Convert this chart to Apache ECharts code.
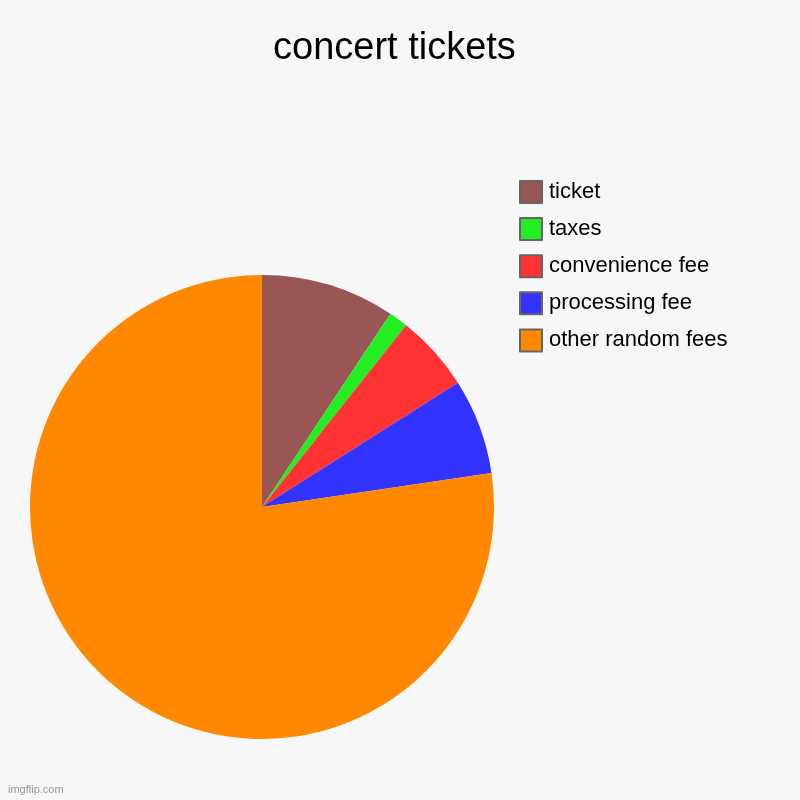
<!DOCTYPE html>
<html><head><meta charset="utf-8">
<script src="https://cdn.jsdelivr.net/npm/echarts@6/dist/echarts.min.js"></script>
<style>html,body{margin:0;padding:0;background:#f7f7f7}#c{width:800px;height:800px}</style>
</head><body><div id="c"></div>
<script>
const categories = ["ticket", "taxes", "convenience fee", "processing fee", "other random fees"];
const values = [70, 10, 40, 50, 580];
const colors = ["#9a5555", "#22ee22", "#ff3333", "#3333ff", "#ff8800"];

const chart = echarts.init(document.getElementById('c'));
chart.setOption({
  backgroundColor: '#f7f7f7',
  animation: false,
  title: {
    text: 'concert tickets', left: 268, top: 25,
    textStyle: { fontFamily: 'Liberation Sans, Arial, sans-serif', fontSize: 38, fontWeight: 'normal', color: '#000' }
  },
  legend: {
    orient: 'vertical', left: 514, top: 175,
    itemWidth: 22, itemHeight: 22, itemGap: 13.1,
    icon: 'rect',
    data: categories,
    itemStyle: { borderColor: '#666', borderWidth: 2 },
    textStyle: { fontFamily: 'Liberation Sans, Arial, sans-serif', fontSize: 22, color: '#000', padding: [0, 0, 0, 2] }
  },
  graphic: [{
    type: 'text', left: 8, top: 784,
    style: { text: 'imgflip.com', fill: '#999', font: '11px Liberation Sans, Arial, sans-serif' }
  }],
  series: [{
    type: 'pie',
    center: [262, 507], radius: 232,
    startAngle: 90, clockwise: true,
    label: { show: false }, labelLine: { show: false },
    emphasis: { disabled: true },
    itemStyle: { borderWidth: 0 },
    data: categories.map((n, i) => ({ name: n, value: values[i], itemStyle: { color: colors[i] } }))
  }]
});
</script></body></html>
